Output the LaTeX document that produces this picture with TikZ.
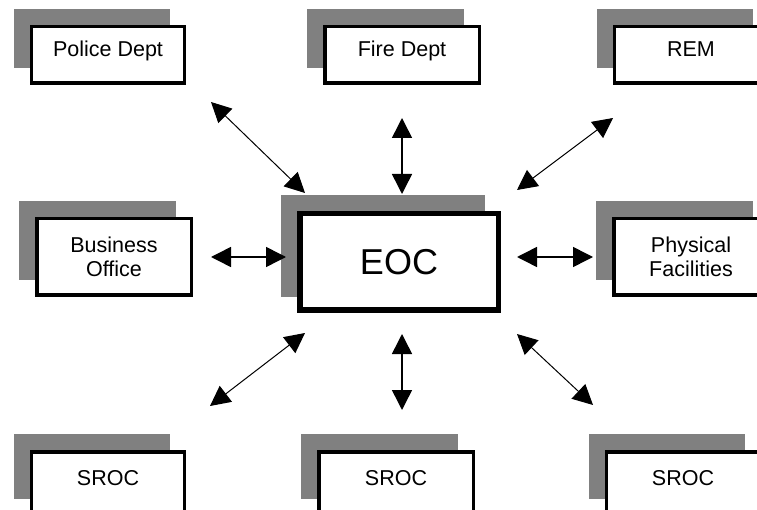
\documentclass[tikz,border=0pt]{standalone}
\usepackage{fontspec}
\setmainfont{Liberation Sans}
\usetikzlibrary{arrows.meta,shadows}
\definecolor{shadowgray}{HTML}{808080}
\tikzset{
  box/.style={draw=black, fill=white, line width=3.5pt, inner sep=0pt,
    minimum width=153pt, minimum height=56.5pt, align=center,
    font=\fontsize{21.5}{23.5}\selectfont,
    general shadow={fill=shadowgray, draw=shadowgray, line width=3pt,
      shadow xshift=-16.5pt, shadow yshift=16.5pt}},
  wide/.style={minimum width=154.5pt, minimum height=76.5pt},
  toptext/.style={text height=15pt, text depth=11pt},
  bottext/.style={minimum height=62.5pt, text height=15pt, text depth=11pt},
  eocbox/.style={box, line width=5.5pt, minimum width=198.5pt, minimum height=96.5pt,
    font=\fontsize{36}{40}\selectfont, text height=26pt, text depth=0pt,
    general shadow={fill=shadowgray, draw=shadowgray, line width=5pt,
      shadow xshift=-16pt, shadow yshift=16pt}},
  link/.style={line width=1.5pt, {Triangle[length=20pt,width=20pt]}-{Triangle[length=20pt,width=20pt]}}
}
\begin{document}
\begin{tikzpicture}[x=1pt,y=-1pt]
\useasboundingbox (0,0) rectangle (757,510);
\clip (0,0) rectangle (757,510);
% boxes
\node[box,toptext] (police) at (108,55) {Police Dept};
\node[box,toptext,minimum width=154.5pt] (fire) at (402,55) {Fire Dept};
\node[box,toptext] (rem) at (691,55) {REM};
\node[box,wide] (business) at (114,257) {Business\\Office};
\node[eocbox] (eoc) at (399,262) {EOC};
\node[box,wide] (physical) at (691,257) {Physical\\Facilities};
\node[box,bottext] (srocl) at (108,483) {SROC};
\node[box,bottext,minimum width=154.5pt] (srocm) at (396,483) {SROC};
\node[box,bottext] (srocr) at (683,483) {SROC};
% arrow end points
\coordinate (p1) at (211,102); \coordinate (p2) at (305,193);
\coordinate (f1) at (402,118); \coordinate (f2) at (402,194);
\coordinate (r1) at (613,118); \coordinate (r2) at (517,190);
\coordinate (b1) at (211,257); \coordinate (b2) at (286,257);
\coordinate (h1) at (593,257); \coordinate (h2) at (517,257);
\coordinate (l1) at (210,406); \coordinate (l2) at (305,333);
\coordinate (m1) at (402,410); \coordinate (m2) at (402,334);
\coordinate (s1) at (593,405); \coordinate (s2) at (517,334);
% connectors
\draw[link, line width=1pt] (p1) -- (p2);
\draw[link] (f1) -- (f2);
\draw[link, line width=1pt] (r1) -- (r2);
\draw[link] (b1) -- (b2);
\draw[link] (h1) -- (h2);
\draw[link, line width=1pt] (l1) -- (l2);
\draw[link] (m1) -- (m2);
\draw[link, line width=1pt] (s1) -- (s2);
\end{tikzpicture}
\end{document}
